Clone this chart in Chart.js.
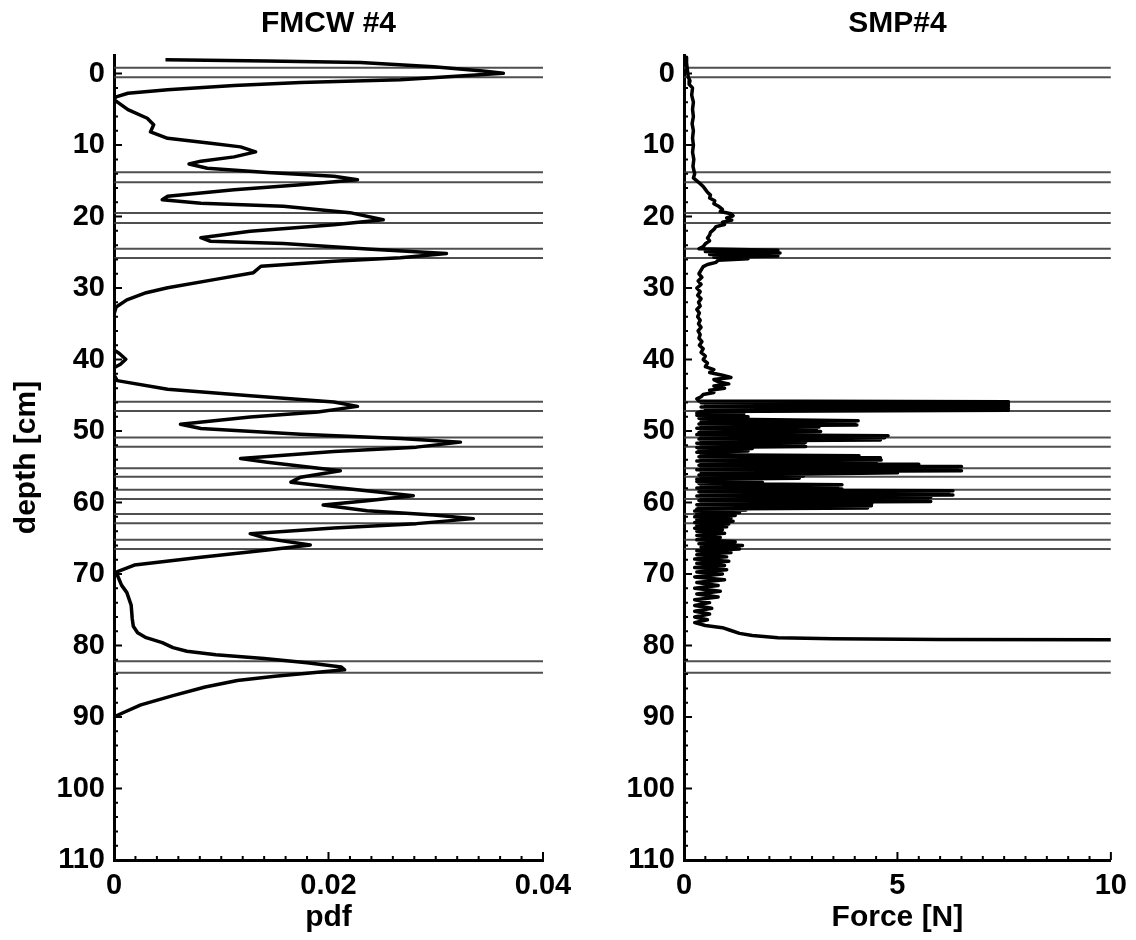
<!DOCTYPE html>
<html><head><meta charset="utf-8">
<script src="https://cdn.jsdelivr.net/npm/chart.js@4/dist/chart.umd.min.js"></script>
<style>
html,body{margin:0;padding:0;background:#fff;}
#wrap{position:relative;width:1136px;height:940px;background:#fff;}
canvas{position:absolute;left:0;top:0;}
</style></head><body>
<div id="wrap"><canvas id="c1" width="1136" height="940"></canvas><canvas id="c2" width="1136" height="940"></canvas></div>
<script>
// ---- data ----
const yTickValues = [0,10,20,30,40,50,60,70,80,90,100,110];
const pdfTickValues = [0,0.02,0.04];
const forceTickValues = [0,5,10];
const titles = ['FMCW #4','SMP#4'];

const layerDepths = [-0.8,0.5,13.8,15.2,19.5,20.9,24.5,25.8,45.9,47.2,50.9,52.2,55.2,56.4,58.2,59.5,61.6,62.9,65.2,66.5,82.2,83.8];

const fmcwDepth = [-1.95,-1.75,-1.55,-0.95,-0.35,-0.05,0.85,1.25,1.65,2.25,2.75,3.25,3.65,5.05,6.25,7.15,8.15,9.05,9.75,10.25,10.95,11.65,12.25,12.65,13.25,13.85,14.35,14.85,15.55,16.25,17.15,17.65,18.15,18.55,19.45,20.45,21.15,22.05,22.95,23.45,23.75,24.55,25.15,25.75,26.25,26.95,27.85,28.75,29.95,30.65,31.65,32.65,33.65,38.65,39.15,39.95,40.65,41.15,42.15,42.95,44.15,45.05,45.95,46.55,47.35,48.05,49.05,49.65,50.45,51.05,51.55,52.25,52.85,53.85,54.35,55.55,56.45,57.15,57.85,59.05,59.75,60.35,61.15,61.75,62.25,62.95,63.55,64.35,65.05,65.95,66.65,67.65,68.75,69.75,71.55,72.6,74.35,76.25,77.3,78.2,78.9,79.6,80.3,80.8,81.3,81.8,82.4,83.0,83.4,83.8,84.3,84.9,85.8,87.0,88.3,89.3,90.0,110];
const fmcwPdf = [0.0048,0.0143,0.023,0.0298,0.0344,0.0363,0.0267,0.0174,0.0112,0.005,0.0013,0.0002,0,0.0013,0.0031,0.0037,0.0034,0.005,0.009,0.0118,0.0132,0.0112,0.0081,0.007,0.0087,0.0143,0.0205,0.0227,0.0174,0.0112,0.005,0.0045,0.0081,0.0158,0.022,0.0251,0.0205,0.0127,0.0081,0.009,0.0158,0.0236,0.031,0.0267,0.0205,0.0137,0.013,0.0096,0.005,0.003,0.0012,0.0002,0,0,0.0005,0.0011,0.0006,0,0,0.0003,0.005,0.0127,0.0205,0.0227,0.019,0.0127,0.0062,0.0081,0.0174,0.0267,0.0323,0.0282,0.0205,0.0118,0.0143,0.0211,0.0174,0.0165,0.0205,0.0279,0.0236,0.0195,0.0236,0.0298,0.0335,0.0282,0.0205,0.0127,0.0143,0.0183,0.0143,0.0081,0.0019,0.0002,0.0007,0.0012,0.0016,0.0017,0.0018,0.0022,0.003,0.0045,0.0055,0.0068,0.0095,0.014,0.018,0.0212,0.0215,0.0185,0.015,0.0115,0.0085,0.0055,0.0025,0.001,0,0];

const smpDepth = [-2.3,-1.5,-0.5,0.5,1.0,1.5,2.0,3.0,4.0,5.0,6.0,7.0,8.0,9.0,10.0,11.0,12.0,13.0,14.0,14.6,15.0,15.4,15.8,16.2,16.6,17.0,17.4,17.8,18.2,18.6,19.0,19.3,19.6,19.9,20.2,20.5,20.8,21.1,21.4,21.8,22.2,22.6,23.0,23.4,23.8,24.2,24.5,24.7,24.9,25.1,25.3,25.5,25.7,25.9,26.1,26.4,26.7,27.0,27.5,28.0,28.5,29.0,29.5,30.0,30.5,31.0,31.5,32.0,32.5,33.0,33.5,34.0,34.5,35.0,35.5,36.0,36.5,37.0,37.5,38.0,38.5,39.0,39.5,40.0,40.5,41.0,41.4,41.8,42.2,42.5,42.8,43.1,43.4,43.7,44.0,44.3,44.6,44.9,45.2,45.5,45.8,
45.9,46.05,46.2,46.35,46.5,46.65,46.8,46.95,47.1,47.25,47.5,47.6,47.8,48.0,48.2,48.4,
48.55,48.7,48.85,49.0,49.15,49.3,49.45,49.6,49.75,49.9,50.05,50.2,50.35,50.5,50.65,50.8,50.95,51.1,51.25,51.4,
51.55,51.7,51.85,52.0,52.15,52.3,52.45,52.6,52.8,52.95,53.1,53.3,53.45,53.6,53.75,53.9,54.05,54.2,54.35,54.5,
54.65,54.8,54.95,55.1,55.25,55.4,55.55,55.7,55.85,56.0,56.15,56.3,56.45,56.6,56.75,56.9,57.05,57.2,57.35,
57.5,57.65,57.8,57.95,58.1,58.25,58.35,58.5,58.65,58.8,58.95,59.1,59.25,59.4,59.55,59.7,59.85,60.0,
60.15,60.3,60.45,60.6,60.75,60.9,61.05,61.2,61.4,61.6,61.8,62.0,62.2,62.4,62.6,62.8,63.0,63.2,63.4,63.6,63.8,64.0,64.3,64.6,64.9,65.2,65.5,65.75,66.0,66.25,66.5,66.75,67.0,67.3,67.6,67.9,68.2,68.5,68.8,69.1,69.4,69.7,70.0,70.4,70.8,
71.2,71.6,72.0,72.4,72.8,73.2,73.6,74.0,74.4,74.8,75.2,75.6,76.0,76.4,76.8,77.2,77.5,77.9,78.3,78.6,78.9,79.05,79.15,79.2];
const smpForce = [0.05,0.06,0.08,0.1,0.14,0.12,0.2,0.18,0.22,0.2,0.22,0.19,0.22,0.2,0.22,0.2,0.23,0.21,0.25,0.22,0.3,0.38,0.45,0.5,0.55,0.62,0.6,0.72,0.7,0.82,0.9,0.85,1.1,1.15,1.0,1.12,0.9,0.95,0.75,0.7,0.62,0.6,0.55,0.6,0.5,0.45,0.35,2.2,0.5,2.25,0.6,2.2,0.7,1.5,0.8,0.75,0.55,0.45,0.4,0.35,0.42,0.33,0.4,0.3,0.38,0.32,0.4,0.34,0.38,0.3,0.36,0.32,0.38,0.34,0.4,0.33,0.38,0.35,0.42,0.36,0.45,0.4,0.5,0.45,0.55,0.5,0.7,0.6,0.9,1.1,0.7,0.8,1.05,0.7,0.95,0.6,0.7,0.45,0.4,0.3,0.35,
7.6,0.4,7.6,0.5,7.6,0.4,7.6,0.5,7.6,0.4,0.3,1.4,0.3,1.5,0.35,1.6,
4.08,0.4,4.0,0.35,4.05,0.4,3.16,0.3,3.1,0.4,3.2,0.35,2.0,0.3,4.78,0.4,4.7,0.35,4.6,0.4,
2.85,0.3,2.8,0.4,2.85,0.3,1.6,0.35,1.5,0.3,1.2,0.4,4.1,0.35,4.6,0.4,4.62,0.3,4.5,0.4,
5.5,0.35,6.5,0.4,6.4,0.3,6.5,0.4,5.0,2.85,0.35,2.8,0.4,2.7,0.3,1.0,0.3,1.84,0.35,
3.7,0.4,3.6,0.3,3.7,0.4,6.3,0.35,6.2,0.4,6.3,0.3,5.78,0.4,5.7,0.35,5.78,0.4,
4.4,0.3,4.39,0.35,4.3,0.3,1.45,0.25,1.3,0.3,1.2,0.25,1.1,0.3,1.15,0.25,1.05,0.3,1.0,0.25,0.9,0.3,0.95,0.3,0.85,0.3,1.2,0.35,1.37,0.4,1.3,0.3,1.1,0.3,1.0,0.25,1.05,0.3,0.95,0.25,1.0,0.3,0.9,0.25,0.95,
0.3,0.8,0.25,0.85,0.3,0.8,0.25,0.6,0.25,0.65,0.25,0.6,0.25,0.55,0.25,0.5,0.9,1.1,1.3,1.6,2.2,3.5,6,10];

// ---- styling ----
const FONT = "'Liberation Sans', Arial, Helvetica, sans-serif";
const Y_MIN = -2.6, Y_MAX = 110;

const axisTicks = {
  id: 'axisTicks',
  afterDatasetsDraw(chart, args, opts) {
    const ctx = chart.ctx, xs = chart.scales.x, ys = chart.scales.y;
    ctx.save();
    ctx.strokeStyle = '#000';
    ctx.lineWidth = 2;
    ctx.beginPath();
    const x0 = xs.getPixelForValue(xs.min), yB = ys.getPixelForValue(Y_MAX);
    for (let i = 0; i <= 110; i += opts.yMinor) {
      const p = ys.getPixelForValue(i);
      const len = (i % 10 === 0) ? 8 : 4;
      ctx.moveTo(x0, p); ctx.lineTo(x0 + len, p);
    }
    const n = Math.round((xs.max - xs.min) / opts.xMinor);
    for (let k = 0; k <= n; k++) {
      const p = xs.getPixelForValue(xs.min + k * opts.xMinor);
      const len = (k % opts.xMajorEvery === 0) ? 8 : 4;
      ctx.moveTo(p, yB); ctx.lineTo(p, yB - len);
    }
    ctx.stroke();
    ctx.restore();
  }
};

function makeChart(id, title, curveData, curveWidth, xMax, xTicks, xTitle, showYTitle, pad, minor) {
  const layerSets = layerDepths.map(d => ({
    data: [{x: 0, y: d}, {x: xMax, y: d}],
    showLine: true, borderColor: 'rgba(60,60,60,0.9)', borderWidth: 2,
    pointRadius: 0, order: 2
  }));
  return new Chart(document.getElementById(id), {
    type: 'scatter',
    data: {
      datasets: [{
        data: curveData, showLine: true, borderColor: '#000', borderWidth: curveWidth,
        borderJoinStyle: 'round', pointRadius: 0, order: 1
      }, ...layerSets]
    },
    options: {
      responsive: false, animation: false, events: [],
      layout: {padding: pad},
      plugins: {
        legend: {display: false}, tooltip: {enabled: false},
        title: {display: true, text: title, fullSize: false, color: '#000',
          font: {family: FONT, size: 30, weight: 'bold'}, padding: {top: 6, bottom: 13}},
        axisTicks: minor
      },
      scales: {
        x: {
          type: 'linear', min: 0, max: xMax,
          afterBuildTicks: s => { s.ticks = xTicks.map(v => ({value: v})); },
          afterFit: s => { s.height = 80; },
          grid: {display: true, drawOnChartArea: false, drawTicks: false},
          border: {display: true, color: '#000', width: 3},
          ticks: {color: '#000', padding: 9, maxRotation: 0, font: {family: FONT, size: 29, weight: 'bold'}},
          title: {display: true, text: xTitle, color: '#000', padding: {top: 0, bottom: 4},
            font: {family: FONT, size: 30, weight: 'bold'}}
        },
        y: {
          type: 'linear', reverse: true, min: Y_MIN, max: Y_MAX,
          afterBuildTicks: s => { s.ticks = yTickValues.map(v => ({value: v})); },
          afterFit: s => { s.width = 114; },
          grid: {display: true, drawOnChartArea: false, drawTicks: false},
          border: {display: true, color: '#000', width: 3},
          ticks: {color: '#000', padding: 9, font: {family: FONT, size: 29, weight: 'bold'}},
          title: {display: showYTitle, text: 'depth [cm]', color: '#000', padding: {top: 9, bottom: 0},
            font: {family: FONT, size: 30, weight: 'bold'}}
        }
      }
    },
    plugins: [axisTicks]
  });
}

const fmcwData = fmcwDepth.map((d, i) => ({x: fmcwPdf[i], y: d}));
const smpData = smpDepth.map((d, i) => ({x: smpForce[i], y: d}));

makeChart('c1', titles[0], fmcwData, 3.5, 0.04, pdfTickValues, 'pdf', true,
  {left: 0, right: 1136 - 543, top: 0, bottom: 0}, {yMinor: 2, xMinor: 0.002, xMajorEvery: 10});
makeChart('c2', titles[1], smpData, 3.5, 10, forceTickValues, 'Force [N]', false,
  {left: 570, right: 1136 - 1115, top: 0, bottom: 0}, {yMinor: 2, xMinor: 0.5, xMajorEvery: 10});
</script>
</body></html>
